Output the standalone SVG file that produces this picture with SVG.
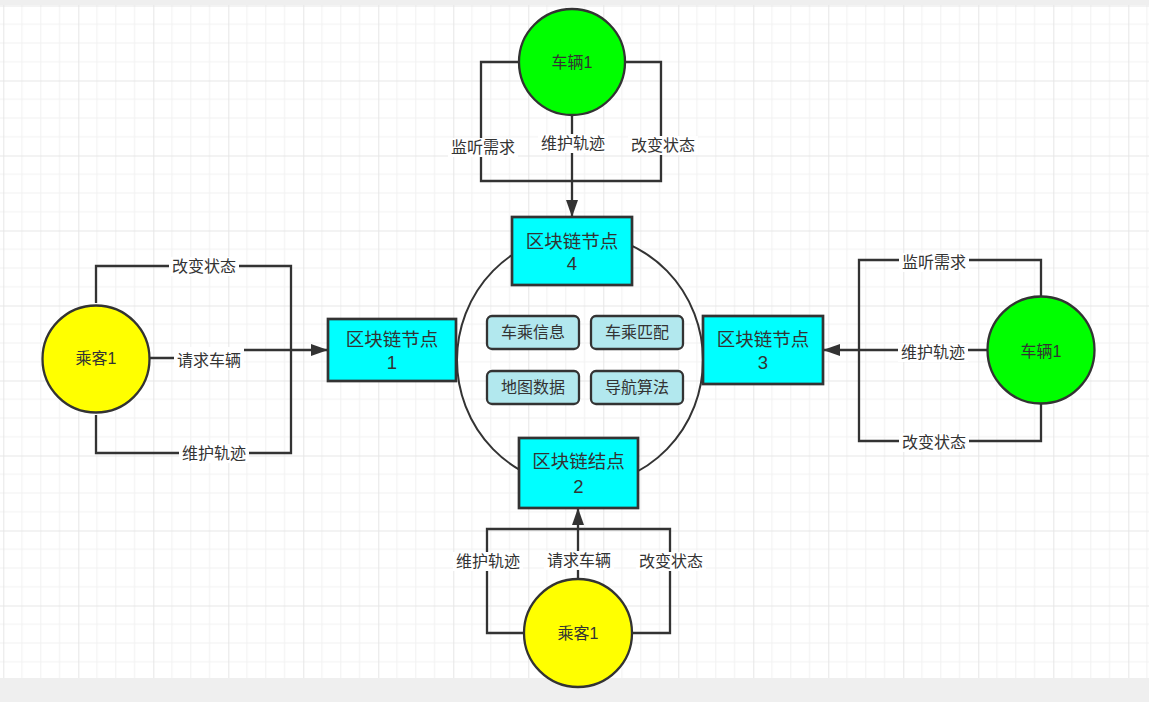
<svg xmlns="http://www.w3.org/2000/svg" width="1149" height="702" viewBox="0 0 1149 702">
<style>
.t{font-family:"Liberation Sans","Noto Sans CJK SC",sans-serif;fill:#333333;text-anchor:middle;dominant-baseline:central}
.lbl{font-size:16px}
.big{font-size:18.5px}
.circ{font-size:16px}
.line{fill:none;stroke:#333333;stroke-width:2.3}
.node{stroke:#333333;stroke-width:2.3}
.chain{fill:#00ffff;stroke:#333333;stroke-width:2.7}
.inner{fill:#b2e8ee;stroke:#333333;stroke-width:2.3}
.bg{fill:#ffffff}
</style>
<defs>
<pattern id="grid" x="3.3" y="5.5" width="75" height="75" patternUnits="userSpaceOnUse">
<path d="M18.75,0V75M37.5,0V75M56.25,0V75M0,18.75H75M0,37.5H75M0,56.25H75" stroke="#f1f1f1" stroke-width="1" fill="none"/>
<path d="M0.5,0V75M0,0.5H75" stroke="#e6e6e6" stroke-width="1" fill="none"/>
</pattern>
<marker id="arr" viewBox="0 0 17 12" refX="17" refY="6" markerWidth="17" markerHeight="12" markerUnits="userSpaceOnUse" orient="auto">
<path d="M0,0L17,6L0,12Z" fill="#333333"/>
</marker>
</defs>
<rect x="0" y="0" width="1149" height="702" fill="#efefef"/>
<rect x="0" y="5" width="1149" height="673" fill="#ffffff"/>
<rect x="0" y="5" width="1149" height="673" fill="url(#grid)"/>

<g id="ring">
<ellipse cx="580" cy="360" rx="123" ry="126" fill="none" stroke="#333333" stroke-width="2"/>
</g>

<g id="connectors">
<path class="line" d="M519,62H481V181H572M625,62H661V181H572"/>
<path class="line" d="M572,115V217" marker-end="url(#arr)"/>
<path class="line" d="M96,303V266H291V350M96,415V453H291V350"/>
<path class="line" d="M149,358H210V350H328" marker-end="url(#arr)"/>
<path class="line" d="M1041,297V260H859V350M1041,404V441H859V350"/>
<path class="line" d="M988,350H823" marker-end="url(#arr)"/>
<path class="line" d="M524,633H487V529H578M633,633H670V529H578"/>
<path class="line" d="M578,578V508" marker-end="url(#arr)"/>
<g id="edge-labels">
<rect class="bg" x="448" y="138" width="70" height="19"/><text class="t lbl" x="483" y="147">监听需求</text>
<rect class="bg" x="538" y="134" width="70" height="19"/><text class="t lbl" x="573" y="143">维护轨迹</text>
<rect class="bg" x="628" y="136" width="70" height="19"/><text class="t lbl" x="663" y="145.5">改变状态</text>
<rect class="bg" x="169" y="257" width="70" height="19"/><text class="t lbl" x="204" y="266">改变状态</text>
<rect class="bg" x="174" y="347" width="70" height="23"/><text class="t lbl" x="209" y="360">请求车辆</text>
<rect class="bg" x="179" y="444" width="70" height="19"/><text class="t lbl" x="214" y="453.5">维护轨迹</text>
<rect class="bg" x="899" y="253" width="70" height="19"/><text class="t lbl" x="934" y="262.5">监听需求</text>
<rect class="bg" x="898" y="343" width="70" height="19"/><text class="t lbl" x="933" y="352.5">维护轨迹</text>
<rect class="bg" x="899" y="433" width="70" height="19"/><text class="t lbl" x="934" y="442.5">改变状态</text>
<rect class="bg" x="453" y="552" width="70" height="19"/><text class="t lbl" x="488" y="561.5">维护轨迹</text>
<rect class="bg" x="544" y="551" width="70" height="19"/><text class="t lbl" x="579" y="560">请求车辆</text>
<rect class="bg" x="636" y="552" width="70" height="19"/><text class="t lbl" x="671" y="561.5">改变状态</text>
</g>
</g>

<g id="vehicle-top">
<circle class="node" cx="572" cy="62" r="53" fill="#00ff00"/>
<text class="t circ" x="572" y="62">车辆1</text>
</g>
<g id="passenger-left">
<circle class="node" cx="96" cy="359" r="53.5" fill="#ffff00"/>
<text class="t circ" x="96" y="358.5">乘客1</text>
</g>
<g id="vehicle-right">
<circle class="node" cx="1041" cy="350" r="53.5" fill="#00ff00"/>
<text class="t circ" x="1041" y="351">车辆1</text>
</g>
<g id="passenger-bottom">
<circle class="node" cx="578" cy="633" r="54" fill="#ffff00"/>
<text class="t circ" x="578" y="633">乘客1</text>
</g>

<g id="chain-node-4">
<rect class="chain" x="512" y="217" width="120" height="68"/>
<text class="t big" x="572" y="241">区块链节点</text>
<text class="t big" x="572" y="263.5">4</text>
</g>
<g id="chain-node-1">
<rect class="chain" x="328" y="319" width="128" height="62"/>
<text class="t big" x="392" y="339">区块链节点</text>
<text class="t big" x="392" y="362.5">1</text>
</g>
<g id="chain-node-3">
<rect class="chain" x="703" y="316" width="120" height="68"/>
<text class="t big" x="763" y="339">区块链节点</text>
<text class="t big" x="763" y="362.5">3</text>
</g>
<g id="chain-node-2">
<rect class="chain" x="519" y="438" width="119" height="70"/>
<text class="t big" x="578.5" y="461.5">区块链结点</text>
<text class="t big" x="578.5" y="486">2</text>
</g>

<g id="info-1">
<rect class="inner" x="487" y="316" width="92" height="33" rx="5"/>
<text class="t lbl" x="533" y="332.5">车乘信息</text>
</g>
<g id="info-2">
<rect class="inner" x="591" y="316" width="92" height="33" rx="5"/>
<text class="t lbl" x="637" y="332.5">车乘匹配</text>
</g>
<g id="info-3">
<rect class="inner" x="487" y="371" width="92" height="33" rx="5"/>
<text class="t lbl" x="533" y="387.5">地图数据</text>
</g>
<g id="info-4">
<rect class="inner" x="591" y="371" width="92" height="33" rx="5"/>
<text class="t lbl" x="637" y="387.5">导航算法</text>
</g>
</svg>
